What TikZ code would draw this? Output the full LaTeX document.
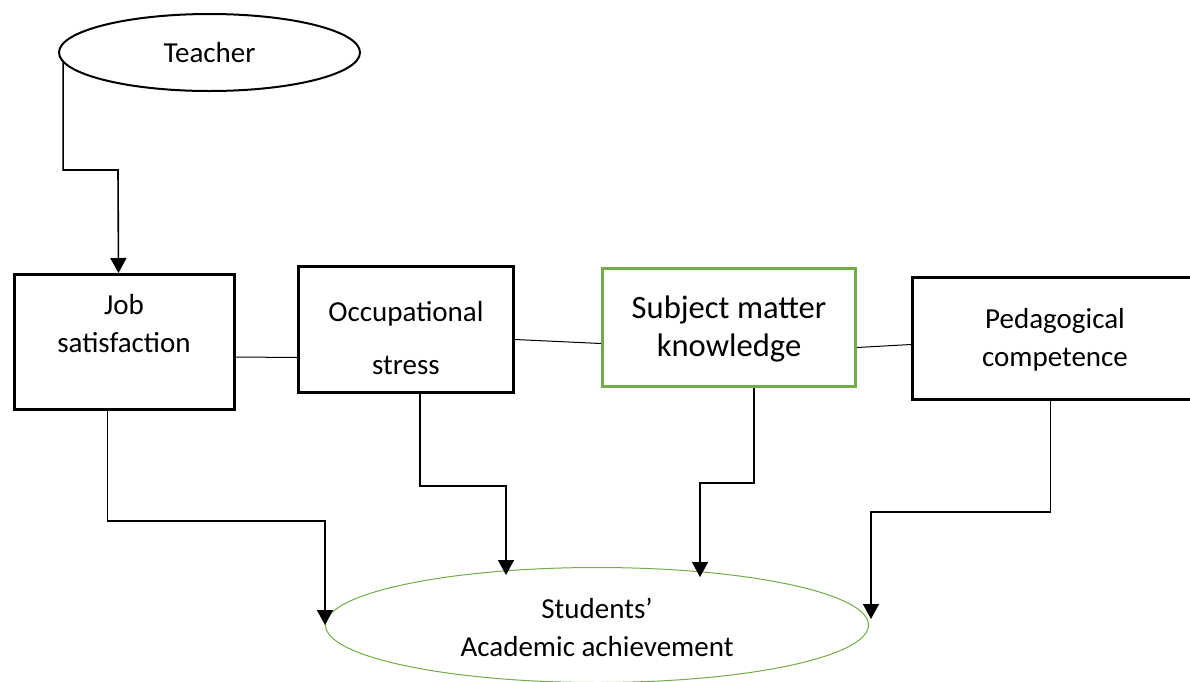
\documentclass[tikz,border=0pt]{standalone}
\usepackage{fontspec}
\setmainfont{Carlito}
\usepackage{tikz}
\usetikzlibrary{arrows.meta, shapes.geometric, positioning}
\definecolor{offgreen}{HTML}{70AD47}

\begin{document}
\begin{tikzpicture}[x=0.5pt, y=-0.5pt,
  every node/.style={font=\fontsize{14.5}{19}\selectfont},
  box/.style={draw, line width=1.5pt, inner sep=0pt},
  txt/.style={align=center, inner sep=0pt},
  conn/.style={line width=0.8pt, -{Triangle[length=7.5pt, width=8pt]}},
  link/.style={line width=0.5pt}]
\useasboundingbox (0,0) rectangle (1190,681);

\node (Teacher) [ellipse, draw, line width=1pt, minimum width=150.5pt, minimum height=38.5pt] at (209.5,52.5) {Teacher};

\node (Job) [box, minimum width=110pt, minimum height=67.5pt] at (124.5,342) {};
\node (Stress) [box, minimum width=107.5pt, minimum height=63pt] at (406,329.5) {};
\node (SMK) [box, draw=offgreen, minimum width=126.5pt, minimum height=59pt] at (729,327.5) {};
\node (PC) [box, minimum width=142pt, minimum height=61pt] at (1054.5,338.5) {};

\node (JobTxt) [txt] at (124,324) {Job\\satisfaction};
\node (StressTxt) [txt] at (406,338.5) {Occupational\\[7.5pt]stress};
\node (SMKTxt) [txt, font=\fontsize{16.3}{19}\selectfont] at (729,329) {Subject matter\\knowledge};
\node (PCTxt) [txt] at (1055,340) {Pedagogical\\competence};

\node (SAA) [ellipse, draw=offgreen, line width=0.5pt, minimum width=271.5pt, minimum height=57.5pt] at (597,625) {};
\node (SAATxt) [txt] at (597,627.5) {Students’\\Academic achievement};

% bends
\coordinate (tbend) at (118,170);
\coordinate (jbend) at (325,521);
\coordinate (obend) at (506,486);
\coordinate (sbend) at (700,483);
\coordinate (pbend) at (871,512);

\draw[conn] (Teacher.184) |- (tbend) -- ([xshift=-3pt]Job.north);

\draw[link] ([yshift=-7.5pt]Job.east) -- ([yshift=-14pt]Stress.west);
\draw[link] ([yshift=-5pt]Stress.east) -- ([yshift=-8pt]SMK.west);
\draw[link] ([yshift=-10pt]SMK.east) -- ([yshift=-3pt]PC.west);

\draw[conn] ([xshift=-8.5pt]Job.south) |- (jbend) -- (SAA.west);
\draw[conn, shorten >=-4pt] ([xshift=7pt]Stress.south) |- (obend) -- (obend |- SAA.north);
\draw[conn, shorten >=-5pt] ([xshift=12.5pt]SMK.south) |- (sbend) -- (sbend |- SAA.north);
\draw[conn, shorten >=3pt] ([xshift=-2pt]PC.south) |- (pbend) -- (pbend |- SAA.east);
\end{tikzpicture}
\end{document}
